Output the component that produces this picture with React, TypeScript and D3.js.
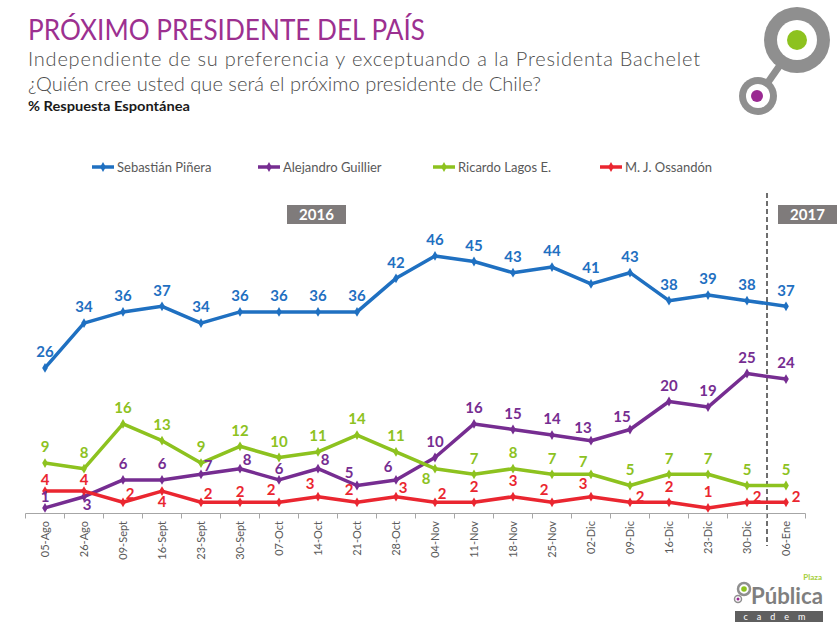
import React from "react";
import * as d3 from "d3";

const categories = ["05-Ago","26-Ago","09-Sept","16-Sept","23-Sept","30-Sept","07-Oct","14-Oct","21-Oct","28-Oct","04-Nov","11-Nov","18-Nov","25-Nov","02-Dic","09-Dic","16-Dic","23-Dic","30-Dic","06-Ene"];
const pinera = [26,34,36,37,34,36,36,36,36,42,46,45,43,44,41,43,38,39,38,37];
const guillier = [1,3,6,6,7,8,6,8,5,6,10,16,15,14,13,15,20,19,25,24];
const lagos = [9,8,16,13,9,12,10,11,14,11,8,7,8,7,7,5,7,7,5,5];
const ossandon = [4,4,2,4,2,2,2,3,2,3,2,2,3,2,3,2,2,1,2,2];
const seriesNames = ["Sebastián Piñera","Alejandro Guillier","Ricardo Lagos E.","M. J. Ossandón"];
const yearLabels = ["2016","2017"];

// label placement codes per point
const pineraPlace = ["t","t","t","t","t","t","t","t","t","t","t","t","t","t","t","t","t","t","t","t"];
const guillierPlace = ["ts","br","t","t","tr","tr","ts","tr","tl","tl","t","t","t","t","tl","tl","t","t","t","t"];
const lagosPlace = ["t","t","t","t","t","t","t","t","t","t","bl","t","t","t","tl","t","t","t","t","t"];
const ossandonPlace = ["ts","ts","tr","b","tr","ts","tl","tl","tl","tr","tr","t","t","tl","tl","r","t","t","r","r"];

const OFFSETS: Record<string, [number, number]> = {
  t: [0, -16], ts: [0, -11], tl: [-8, -13], tr: [7, -9], r: [10, -6], b: [0, 11], bl: [-9, 10], br: [3, 8],
};

const COLORS = ["#1f70c1", "#762d91", "#8dc21f", "#ea2630"];
const FONT = "Lato, 'Open Sans', sans-serif";

export default function App() {
  const W = 840, H = 626;
  const x = d3.scaleBand<string>().domain(categories).range([25.5, 805.5]).padding(0);
  const cx = (c: string) => (x(c) as number) + x.bandwidth() / 2;
  const y = d3.scaleLinear().domain([0, 46]).range([513.5, 513.5 - 46 * 5.6]);

  const series = [
    { name: seriesNames[0], values: pinera, place: pineraPlace, color: COLORS[0] },
    { name: seriesNames[1], values: guillier, place: guillierPlace, color: COLORS[1] },
    { name: seriesNames[2], values: lagos, place: lagosPlace, color: COLORS[2] },
    { name: seriesNames[3], values: ossandon, place: ossandonPlace, color: COLORS[3] },
  ];

  const line = d3.line<number>().x((_, i) => cx(categories[i])).y((v) => y(v));
  const diamond = d3.symbol().type(d3.symbolDiamond).size(28)() as string;

  const ticks = d3.range(categories.length + 1).map((i) => 25.5 + i * x.bandwidth());
  const dashX = (cx(categories[18]) + cx(categories[19])) / 2 + 0.5;

  const legendX = [92, 258, 433, 600];

  return (
    <svg width={W} height={H} style={{ position: "absolute", left: 0, top: 0, background: "#fff" }} fontFamily={FONT}>
      <rect width={W} height={H} fill="#fff" />
      {/* Titles */}
      <text x={28} y={40} fontSize={29} fill="#9c3090" textLength={397} lengthAdjust="spacingAndGlyphs">PRÓXIMO PRESIDENTE DEL PAÍS</text>
      <text x={28} y={66} fontSize={20} fontWeight={300} fill="#4d4d4d" textLength={672} lengthAdjust="spacing">Independiente de su preferencia y exceptuando a la Presidenta Bachelet</text>
      <text x={28} y={91} fontSize={20} fontWeight={300} fill="#4d4d4d" textLength={513} lengthAdjust="spacingAndGlyphs">¿Quién cree usted que será el próximo presidente de Chile?</text>
      <text x={28} y={111} fontSize={14} fontWeight="bold" fill="#1a1a1a" textLength={162} lengthAdjust="spacingAndGlyphs">% Respuesta Espontánea</text>

      {/* Top-right logo */}
      <g>
        <line x1={785} y1={58} x2={764} y2={88} stroke="#8f8f8f" strokeWidth={7} />
        <circle cx={797} cy={40} r={33} fill="#8f8f8f" />
        <circle cx={797} cy={40} r={20} fill="#fff" />
        <circle cx={797} cy={40} r={10} fill="#8dc21f" />
        <circle cx={758} cy={96} r={19} fill="#8f8f8f" />
        <circle cx={758} cy={96} r={12} fill="#fff" />
        <circle cx={757} cy={96} r={6} fill="#9a2a92" />
      </g>

      {/* Legend */}
      {series.map((s, i) => (
        <g key={s.name} transform={`translate(${legendX[i]},167)`}>
          <line x1={0} x2={22} y1={0} y2={0} stroke={s.color} strokeWidth={3.5} />
          <path d={diamond} transform="translate(11,0)" fill={s.color} />
          <text x={25} y={0} dy="0.35em" fontSize={13} fill="#595959">{s.name}</text>
        </g>
      ))}

      {/* Year boxes */}
      <rect x={287} y={205} width={59} height={19} fill="#7f7b7b" />
      <text x={316.5} y={214.5} dy="0.36em" textAnchor="middle" fontSize={15} fontWeight="bold" fill="#fff">{yearLabels[0]}</text>
      <rect x={778} y={205} width={59} height={19} fill="#7f7b7b" />
      <text x={807.5} y={214.5} dy="0.36em" textAnchor="middle" fontSize={15} fontWeight="bold" fill="#fff">{yearLabels[1]}</text>

      {/* Dashed separator */}
      <line x1={dashX} x2={dashX} y1={193} y2={546} stroke="#6e6e6e" strokeWidth={2} strokeDasharray="5,3" />

      {/* Axis */}
      <line x1={25.5} x2={805.5} y1={513.5} y2={513.5} stroke="#a6a6a6" strokeWidth={1} />
      {ticks.map((t, i) => (
        <line key={i} x1={t} x2={t} y1={513.5} y2={518.5} stroke="#a6a6a6" strokeWidth={1} />
      ))}
      {categories.map((c) => (
        <text key={c} transform={`translate(${cx(c)},521) rotate(-90)`} textAnchor="end" dy="0.35em" fontSize={11} fill="#595959">{c}</text>
      ))}

      {/* Lines */}
      {series.map((s) => (
        <g key={s.name}>
          <path d={line(s.values) as string} fill="none" stroke={s.color} strokeWidth={3.5} strokeLinejoin="round" />
          {s.values.map((v, i) => (
            <path key={i} d={diamond} transform={`translate(${cx(categories[i])},${y(v)})`} fill={s.color} />
          ))}
        </g>
      ))}

      {/* Labels */}
      {series.map((s) => (
        <g key={s.name + "l"}>
          {s.values.map((v, i) => {
            const [dx, dy] = OFFSETS[s.place[i]];
            return (
              <text key={i} x={cx(categories[i]) + dx} y={y(v) + dy} dy="0.35em" textAnchor="middle" fontSize={15} fontWeight="bold" fill={s.color}>{v}</text>
            );
          })}
        </g>
      ))}

      {/* Bottom-right logo */}
      <g>
        <circle cx={744} cy={589} r={6} fill="none" stroke="#8f8f8f" strokeWidth={2.5} />
        <circle cx={744} cy={589} r={2.8} fill="#8dc21f" />
        <circle cx={738} cy={599} r={3.5} fill="none" stroke="#8f8f8f" strokeWidth={1.5} />
        <circle cx={738} cy={599} r={1.5} fill="#9a2a92" />
        <text x={751} y={604} fontSize={23} fontWeight="bold" fill="#7f7f7f" textLength={72} lengthAdjust="spacingAndGlyphs">Pública</text>
        <text x={822} y={580} textAnchor="end" fontSize={8} fontWeight="bold" fill="#a6cf3c">Plaza</text>
        <rect x={735} y={611} width={88} height={11} fill="#5f5f5f" />
        <text x={779} y={616.5} dy="0.35em" textAnchor="middle" fontSize={9} fill="#fff" letterSpacing={9}>cadem</text>
      </g>
    </svg>
  );
}
